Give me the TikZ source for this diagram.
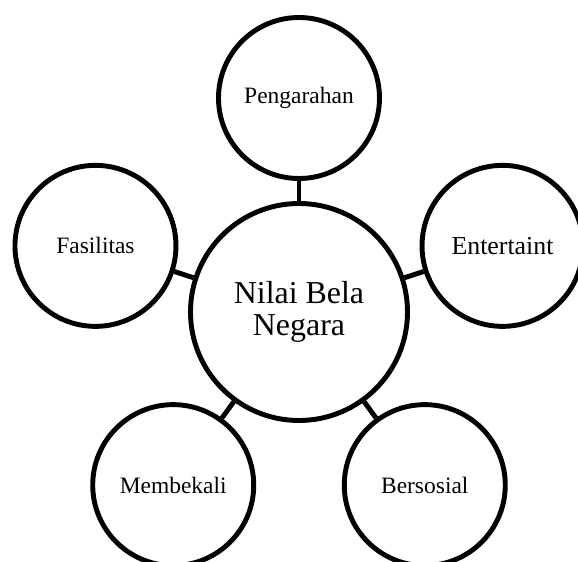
\documentclass[tikz,border=0pt]{standalone}
\usepackage{fontspec}
\setmainfont{Liberation Serif}

\begin{document}
\begin{tikzpicture}[
    line width=3.5pt,
    pusat/.style={
        circle,
        draw,
        inner sep=0pt,
        minimum size=5.425cm,
        align=center,
        font=\fontsize{22.7}{22.7}\selectfont,
    },
    cabang/.style={
        circle,
        draw,
        inner sep=0pt,
        minimum size=4.025cm,
        font=\fontsize{16.7}{20}\selectfont,
    },
]

\clip (-7.475,-6.25) rectangle (6.975,7.8);

\node[pusat] (nilai) at (0,0) {Nilai Bela\\Negara};

\node[cabang] (arah)   at (90:5.35)  {Pengarahan};
\node[cabang] (fasil)  at (162:5.35) {Fasilitas};
\node[cabang] (bekal)  at (234:5.35) {Membekali};
\node[cabang] (sosial) at (306:5.35) {Bersosial};
\node[cabang, font=\fontsize{18.4}{22}\selectfont] (hibur) at (18:5.35) {Entertaint};

\draw (nilai) -- (arah);
\draw (nilai) -- (fasil);
\draw (nilai) -- (bekal);
\draw (nilai) -- (sosial);
\draw (nilai) -- (hibur);

\end{tikzpicture}
\end{document}
